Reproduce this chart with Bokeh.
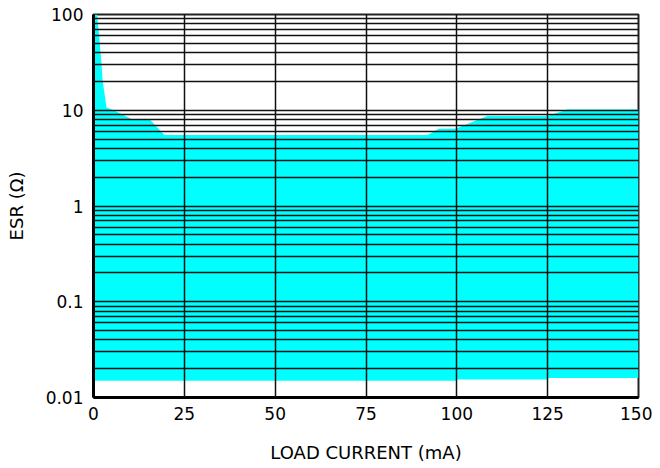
from bokeh.plotting import figure
from bokeh.models import FixedTicker, CustomJSTickFormatter, Range1d
from bokeh.embed import file_html
from bokeh.resources import INLINE

# Upper boundary of the stable ESR region (load current mA, ESR ohm)
upper_current = [0, 1.0, 1.5, 2.2, 2.5, 3.6, 6.0, 10.7, 15.5, 19.5, 92.0, 95.0, 99.6, 108.4, 125.0, 130.5, 150]
upper_esr = [100, 100, 63, 31, 20.5, 10.7, 9.8, 8.0, 8.0, 5.5, 5.5, 6.4, 6.4, 8.7, 8.7, 10.2, 10.2]

# Lower boundary of the stable ESR region
lower_current = [0, 100, 100, 125, 125, 150]
lower_esr = [0.015, 0.015, 0.0154, 0.0154, 0.016, 0.016]

x_ticks = [0, 25, 50, 75, 100, 125, 150]
y_ticks = [0.01, 0.1, 1, 10, 100]

FONT = "DejaVu Sans"

p = figure(width=652, height=468, y_axis_type="log",
           x_range=Range1d(0, 150), y_range=Range1d(0.01, 100),
           output_backend="svg", toolbar_location=None,
           min_border_left=93, min_border_right=14, min_border_top=14, min_border_bottom=71)

px = upper_current + lower_current[::-1]
py = upper_esr + lower_esr[::-1]
p.patch(px, py, fill_color="#00FFFF", line_color=None)

minor = [m * 10.0 ** k for k in range(-2, 2) for m in range(2, 10)]
p.yaxis.ticker = FixedTicker(ticks=y_ticks, minor_ticks=minor)
p.xaxis.ticker = FixedTicker(ticks=x_ticks)
p.yaxis.formatter = CustomJSTickFormatter(code="return String(Number(tick.toPrecision(3)));")

for g in (p.xgrid, p.ygrid):
    g.grid_line_color = "#111111"
    g.grid_line_width = 1.5
    g.level = "overlay"
p.ygrid.minor_grid_line_color = "#111111"
p.ygrid.minor_grid_line_width = 1.5

for ax in (p.xaxis, p.yaxis):
    ax.axis_line_width = 3
    ax.axis_line_color = "black"
    ax.major_tick_line_color = None
    ax.minor_tick_line_color = None
    ax.major_tick_out = 0
    ax.major_tick_in = 0
    ax.minor_tick_out = 0
    ax.minor_tick_in = 0
    ax.major_label_text_font = FONT
    ax.major_label_text_font_size = "17px"
    ax.major_label_text_color = "black"
    ax.axis_label_text_font = FONT
    ax.axis_label_text_font_size = "18px"
    ax.axis_label_text_font_style = "normal"
    ax.axis_label_text_color = "black"

p.xaxis.axis_label = "LOAD CURRENT (mA)"
p.yaxis.axis_label = "ESR (Ω)"
p.xaxis.major_label_standoff = 9
p.yaxis.major_label_standoff = 10
p.xaxis.axis_label_standoff = 19
p.yaxis.axis_label_standoff = 16

p.outline_line_color = "#222222"
p.outline_line_width = 2
p.background_fill_color = "white"
p.border_fill_color = "white"

open("out.html", "w").write(file_html(p, INLINE))
